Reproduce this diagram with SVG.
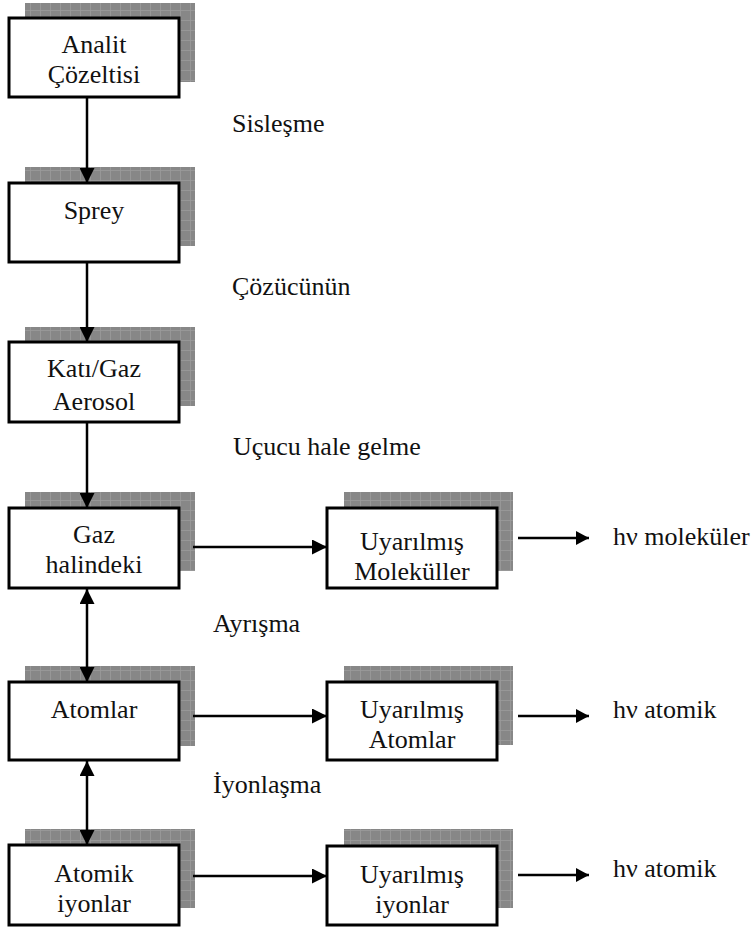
<svg xmlns="http://www.w3.org/2000/svg" width="755" height="928" viewBox="0 0 755 928">
<defs>
<pattern id="grid" width="10" height="10" patternUnits="userSpaceOnUse">
<rect width="10" height="10" fill="#878787"/>
<path d="M0,0.5 H10 M0.5,0 V10" stroke="#9a9a9a" stroke-width="0.8" fill="none"/>
</pattern>
<marker id="ah" markerUnits="userSpaceOnUse" markerWidth="16" markerHeight="15" refX="15" refY="7.5" orient="auto-start-reverse">
<path d="M0,0 L15,7.5 L0,15 z" fill="#000"/>
</marker>
<marker id="ahs" markerUnits="userSpaceOnUse" markerWidth="14" markerHeight="15" refX="13" refY="7" orient="auto">
<path d="M0,0 L13,7 L0,14 z" fill="#000"/>
</marker>
</defs>
<style>
.sh{fill:url(#grid);}
.bx{fill:#fff;stroke:#000;stroke-width:3;}
.c{text-anchor:middle;}
.ln{stroke:#000;stroke-width:2.5;fill:none;}
</style>
<g font-family="'Liberation Serif', 'Times New Roman', 'DejaVu Serif', serif" font-size="26" fill="#111">
<g id="n-analit">
<rect class="sh" x="25" y="3" width="170" height="79"/>
<rect class="bx" x="9" y="18" width="170" height="79"/>
<text class="c" x="94" y="53">Analit</text>
<text class="c" x="94" y="83">Çözeltisi</text>
</g>
<g id="n-sprey">
<rect class="sh" x="25" y="167" width="170" height="79"/>
<rect class="bx" x="9" y="183" width="170" height="79"/>
<text class="c" x="94" y="219">Sprey</text>
</g>
<g id="n-aerosol">
<rect class="sh" x="25" y="327" width="170" height="79"/>
<rect class="bx" x="9" y="342" width="170" height="80"/>
<text class="c" x="94" y="377">Katı/Gaz</text>
<text class="c" x="94" y="410">Aerosol</text>
</g>
<g id="n-gaz">
<rect class="sh" x="25" y="492" width="170" height="79"/>
<rect class="bx" x="9" y="508" width="170" height="80"/>
<text class="c" x="94" y="543">Gaz</text>
<text class="c" x="94" y="573">halindeki</text>
</g>
<g id="n-atomlar">
<rect class="sh" x="25" y="666" width="170" height="80"/>
<rect class="bx" x="9" y="682" width="170" height="78"/>
<text class="c" x="94" y="718">Atomlar</text>
</g>
<g id="n-iyon">
<rect class="sh" x="25" y="829" width="170" height="79"/>
<rect class="bx" x="9" y="845" width="170" height="80"/>
<text class="c" x="94" y="882">Atomik</text>
<text class="c" x="94" y="912">iyonlar</text>
</g>
<g id="n-umol">
<rect class="sh" x="344" y="492" width="169" height="79"/>
<rect class="bx" x="327" y="508" width="170" height="80"/>
<text class="c" x="412" y="550">Uyarılmış</text>
<text class="c" x="412" y="580">Moleküller</text>
</g>
<g id="n-uatom">
<rect class="sh" x="344" y="666" width="169" height="79"/>
<rect class="bx" x="327" y="682" width="170" height="78"/>
<text class="c" x="412" y="718">Uyarılmış</text>
<text class="c" x="412" y="748">Atomlar</text>
</g>
<g id="n-uiyon">
<rect class="sh" x="344" y="829" width="169" height="79"/>
<rect class="bx" x="327" y="846" width="170" height="79"/>
<text class="c" x="412" y="883">Uyarılmış</text>
<text class="c" x="412" y="913">iyonlar</text>
</g>
<g id="labels">
<text x="232" y="132">Sisleşme</text>
<text x="232" y="295">Çözücünün</text>
<text x="233" y="455">Uçucu hale gelme</text>
<text x="213" y="632">Ayrışma</text>
<text x="213" y="793">İyonlaşma</text>
<text x="613" y="545">hν moleküler</text>
<text x="613" y="718">hν atomik</text>
<text x="613" y="877">hν atomik</text>
</g>
</g>
<g id="connectors">
<line class="ln" x1="87" y1="98" x2="87" y2="183" marker-end="url(#ah)"/>
<line class="ln" x1="87" y1="263" x2="87" y2="342" marker-end="url(#ah)"/>
<line class="ln" x1="87" y1="423" x2="87" y2="508" marker-end="url(#ah)"/>
<line class="ln" x1="87" y1="589" x2="87" y2="682" marker-start="url(#ah)" marker-end="url(#ah)"/>
<line class="ln" x1="87" y1="761" x2="87" y2="845" marker-start="url(#ah)" marker-end="url(#ah)"/>
<line class="ln" x1="193" y1="547" x2="327" y2="547" marker-end="url(#ah)"/>
<line class="ln" x1="193" y1="716" x2="327" y2="716" marker-end="url(#ah)"/>
<line class="ln" x1="193" y1="876" x2="327" y2="876" marker-end="url(#ah)"/>
<line class="ln" x1="518" y1="538" x2="589" y2="538" marker-end="url(#ahs)"/>
<line class="ln" x1="518" y1="716" x2="589" y2="716" marker-end="url(#ahs)"/>
<line class="ln" x1="518" y1="875" x2="589" y2="875" marker-end="url(#ahs)"/>
</g>
</svg>
